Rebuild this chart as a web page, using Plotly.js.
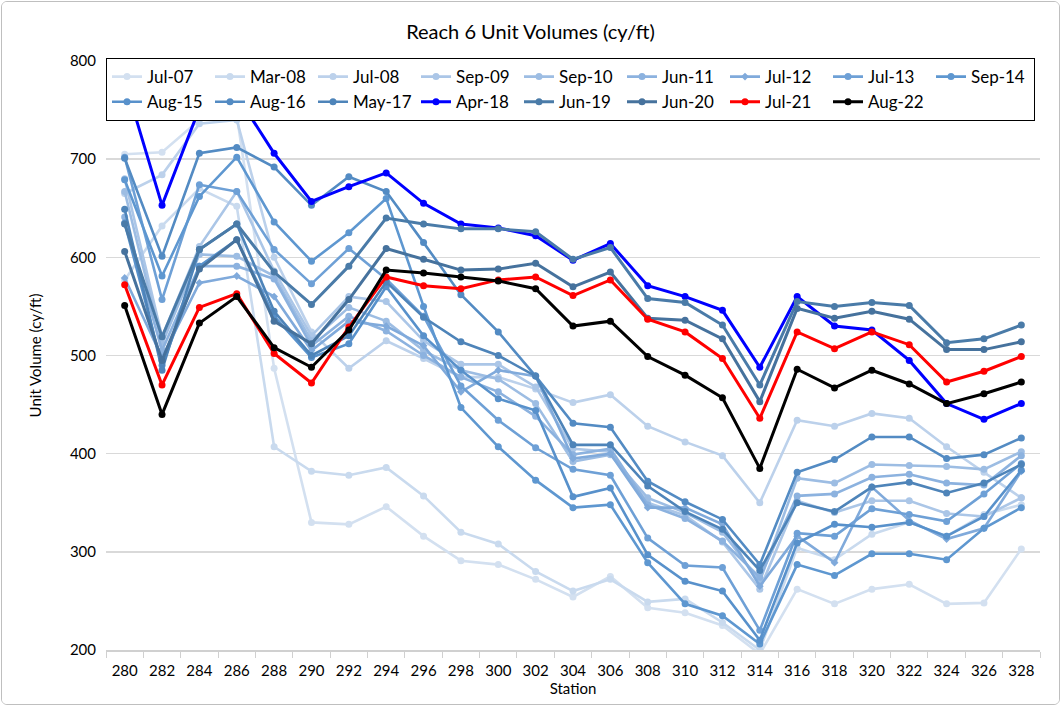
<!DOCTYPE html>
<html><head><meta charset="utf-8">
<script src="https://cdn.plot.ly/plotly-3.0.1.min.js"></script>
<style>
html,body{margin:0;padding:0;background:#fff;}
#wrap{position:absolute;left:1px;top:1px;width:1059px;height:704px;border:1px solid #bfbfbf;border-radius:6px;box-sizing:border-box;overflow:hidden;}
#chart{width:1057px;height:702px;}
</style></head>
<body><div id="wrap"><div id="chart"></div></div>
<script>
const stations = ['280','282','284','286','288','290','292','294','296','298','300','302','304','306','308','310','312','314','316','318','320','322','324','326','328'];

const jul07 = [705,707,740,745,487,330,328,346,316,291,287,272,254,275,243,238,225,196,262,247,262,267,247,248,303];
const mar08 = [577,632,670,652,407,382,378,386,357,320,308,280,260,272,249,252,228,200,304,292,318,330,316,338,348];
const jul08 = [665,684,736,740,600,524,487,515,497,478,478,466,452,460,428,412,398,350,434,428,441,436,407,381,355];
const sep09 = [680,519,611,667,586,520,560,555,515,491,491,468,405,402,350,337,310,262,352,340,352,352,339,336,355];
const sep10 = [667,512,603,601,581,515,549,535,505,485,476,451,392,399,355,340,320,270,375,370,389,388,387,384,402];
const jun11 = [641,505,591,591,578,510,540,525,500,478,463,438,399,405,348,334,311,274,357,359,376,379,370,368,398];
const jul12 = [579,498,574,581,560,505,535,530,510,463,485,479,395,400,345,345,328,265,316,289,366,332,313,324,382];
const jul13 = [702,557,674,667,608,573,609,578,540,469,434,406,384,378,314,286,284,220,319,316,344,338,331,359,390];
const sep14 = [679,581,662,702,636,596,625,660,550,447,407,373,345,348,289,247,235,206,287,276,298,298,292,324,345];
const aug15 = [635,490,591,618,540,498,512,570,520,485,456,444,356,365,297,270,260,210,309,328,325,330,316,336,383];
const aug16 = [701,601,706,712,692,653,682,667,615,562,524,479,431,427,372,351,333,287,381,394,417,417,395,399,416];
const may17 = [649,485,608,634,545,500,520,575,539,514,500,479,409,409,367,341,323,281,350,341,366,371,360,370,389];
const apr18 = [780,653,752,765,706,657,672,686,655,634,630,622,597,614,571,560,546,488,560,530,526,495,451,435,451];
const jun19 = [634,519,608,634,585,552,591,640,634,629,629,626,598,610,558,554,531,470,555,550,554,551,513,517,531];
const jun20 = [606,495,588,618,535,512,557,609,598,587,588,594,570,585,538,536,517,453,548,538,545,537,506,506,514];
const jul21 = [572,470,549,563,502,472,529,580,571,568,577,580,561,577,537,524,497,436,524,507,524,511,473,484,499];
const aug22 = [551,440,533,560,508,488,526,587,584,580,576,568,530,535,499,480,457,385,486,467,485,471,451,461,473];

const seriesNames = ['Jul-07','Mar-08','Jul-08','Sep-09','Sep-10','Jun-11','Jul-12','Jul-13','Sep-14','Aug-15','Aug-16','May-17','Apr-18','Jun-19','Jun-20','Jul-21','Aug-22'];
const seriesData = [jul07,mar08,jul08,sep09,sep10,jun11,jul12,jul13,sep14,aug15,aug16,may17,apr18,jun19,jun20,jul21,aug22];
const seriesColors = ['#d3e0f0','#c9daee','#bcd1eb','#abc6e7','#9dbde3','#8cb2df','#80aadb','#6ea0d6','#5e97d0','#5891cb','#538bc3','#4e84b9','#0000ff','#4a7ba8','#46729d','#ff0000','#000000'];
const seriesSymbols = ['circle','circle','circle','circle','circle','circle','diamond','circle','circle','circle','circle','circle','circle','circle','circle','circle','circle'];

const traces = seriesNames.map((n,i)=>({
  type:'scatter', mode:'lines+markers', name:n, x:stations, y:seriesData[i],
  line:{color:seriesColors[i], width:(i>=12?3:2.6)},
  marker:{color:seriesColors[i], size:(seriesSymbols[i]==='diamond'?6:7), symbol:seriesSymbols[i]},
  cliponaxis:true
}));

const font = 'Lato, "Liberation Sans", Arial, sans-serif';
const layout = {
  width:1057, height:702,
  margin:{l:104, r:19, t:59, b:54},
  paper_bgcolor:'#fff', plot_bgcolor:'#fff',
  font:{family:font, size:15, color:'#000'},
  title:{text:'Reach 6 Unit Volumes (cy/ft)', x:0.5, xanchor:'center', y:0.967, yanchor:'top', font:{family:font, size:20, color:'#000'}},
  xaxis:{type:'category', range:[-0.5,24.5], tickson:'boundaries', ticks:'outside', ticklen:6, tickcolor:'#d0d0d0',
    showline:true, linecolor:'#d0d0d0', linewidth:1.5, showgrid:false, zeroline:false, ticklabelstandoff:6,
    tickfont:{family:font, size:15, color:'#000'},
    title:{text:'Station', standoff:0, font:{family:font, size:15, color:'#000'}}},
  yaxis:{range:[200,800], dtick:100, showgrid:true, gridcolor:'#d9d9d9', gridwidth:1.5, showline:false, zeroline:false,
    ticks:'', ticklabelstandoff:9, tickfont:{family:font, size:15, color:'#000'},
    title:{text:'Unit Volume (cy/ft)', standoff:24, font:{family:font, size:15, color:'#000'}}},
  showlegend:true,
  legend:{orientation:'h', x:0.0, xanchor:'left', y:1.005, yanchor:'top', bgcolor:'#fff', bordercolor:'#000', borderwidth:1,
    entrywidth:58, entrywidthmode:'pixels', traceorder:'normal', font:{family:font, size:17, color:'#000'},
    itemwidth:30, tracegroupgap:0}
};
Plotly.newPlot('chart', traces, layout, {displayModeBar:false, staticPlot:true});
</script></body></html>
